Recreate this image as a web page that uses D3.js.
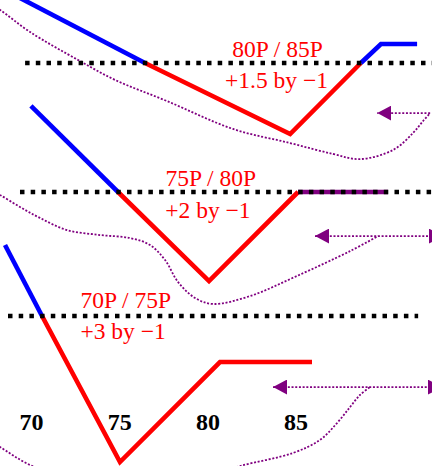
<!DOCTYPE html>
<html>
<head>
<meta charset="utf-8">
<script src="https://cdn.jsdelivr.net/npm/d3@7"></script>
<style>
  html, body { margin: 0; padding: 0; background: #fff; }
  svg { display: block; }
</style>
</head>
<body>
<div id="chart"></div>
<script>
// strike prices shown under the chart
const strikes = [70, 75, 80, 85];

// the three put spreads, top to bottom
const spreadNames = ["80P / 85P", "75P / 80P", "70P / 75P"];
const spreadRatios = ["+1.5 by \u22121", "+2 by \u22121", "+3 by \u22121"];

// payoff break points of each spread (underlying price, payoff)
const payoffPrices = [
  [68, 76.46, 84.69, 88.7, 89.84, 91.89],
  [69.99, 74.93, 80.09, 85.14, 90.24],
  [68.52, 70.62, 75.04, 80.71, 85.93]
];
const payoffValues = [
  [4.4, 0, -4.03, 0, 1.08, 1.08],
  [4.88, 0, -5.05, 0, 0],
  [4.03, 0, -8.28, -2.61, -2.61]
];

// dotted zero line of each panel, from / to price
const zeroFrom = [69.66, 69.37, 68.69];
const zeroTo = [94, 94, 91.95];

// dotted purple guide curves
const guidePrices = [
  [67.67, 68.24, 69.94, 72.77, 74.76, 77.71, 81.45, 84.69, 87.12, 88.65, 90.53, 91.66, 92.23, 92.63],
  [67.67, 68.24, 69.37, 70.50, 72.04, 73.91, 75.61, 76.75, 77.60, 78.33, 79.30, 80.32, 82.42, 85.08, 88.09, 89.68],
  [67.67, 68.24, 69.94, 72.77, 76.74, 80.15, 81.85, 84.85, 86.38, 87.35, 88.09, 88.65, 89.22]
];
const guideValues = [
  [3.35, 3.01, 1.76, 0.11, -0.96, -2.16, -3.74, -4.54, -5.16, -5.45, -4.93, -3.97, -3.29, -2.84],
  [0.11, -0.17, -0.85, -1.47, -2.16, -2.44, -2.61, -3.01, -3.86, -5.10, -6.01, -6.35, -5.90, -4.76, -3.35, -2.50],
  [-7.09, -7.43, -8.45, -9.42, -9.76, -9.08, -8.51, -7.77, -7.03, -6.07, -5.16, -4.48, -4.03]
];

// arrows: start price, end price, level, heads at both ends?
const arrowFrom = [92.63, 86.10, 83.72];
const arrowTo = [89.63, 93.36, 93.3];
const arrowValue = [-2.84, -2.50, -4.03];
const arrowBoth = [false, true, true];

// layout
const width = 432;
const height = 466;
const panelBase = [63, 192, 316];
const labelPrice = [81.41, 77.62, 72.80];
const ratioPrice = [81.0, 77.61, 72.80];
const nameLevel = [0.34, 0.34, 0.45];
const ratioLevel = [-1.42, -1.47, -1.30];
const tickBaseline = 430;

const blue = "#0000ff";
const red = "#ff0000";
const purple = "#800080";
const serif = "'Liberation Serif', 'Times New Roman', Times, serif";

const xScale = d3.scaleLinear()
  .domain([70, 85])
  .range([31.1, 295.6]);
const unit = (xScale(85) - xScale(70)) / 15;

const panelScale = i => d3.scaleLinear()
  .domain([0, 1])
  .range([panelBase[i], panelBase[i] - unit]);

const svg = d3.select("#chart")
  .append("svg")
  .attr("width", width)
  .attr("height", height);

svg.append("defs")
  .append("marker")
  .attr("id", "head")
  .attr("viewBox", "0 -7.5 14 15")
  .attr("refX", 14)
  .attr("refY", 0)
  .attr("markerWidth", 14)
  .attr("markerHeight", 15)
  .attr("markerUnits", "userSpaceOnUse")
  .attr("orient", "auto-start-reverse")
  .append("path")
  .attr("d", "M0,-7.5L14,0L0,7.5Z")
  .attr("fill", purple);

// group consecutive segments with the same sign so joins stay sharp
function runsBySign(points) {
  const runs = [];
  for (let i = 0; i < points.length - 1; i++) {
    const a = points[i], b = points[i + 1];
    const mid = (a[1] + b[1]) / 2;
    const sign = mid > 0 ? 1 : mid < 0 ? -1 : 0;
    const last = runs[runs.length - 1];
    if (last && last.sign === sign) last.points.push(b);
    else runs.push({ sign, points: [a, b] });
  }
  return runs;
}

const signColor = s => s > 0 ? blue : s < 0 ? red : purple;

spreadNames.forEach((name, i) => {
  const yScale = panelScale(i);
  const g = svg.append("g").attr("class", "panel");

  const line = d3.line()
    .x(d => xScale(d[0]))
    .y(d => yScale(d[1]));

  // guide curve
  const guide = guidePrices[i].map((p, j) => [p, guideValues[i][j]]);
  g.append("path")
    .attr("d", line.curve(d3.curveCatmullRom.alpha(0.5))(guide))
    .attr("fill", "none")
    .attr("stroke", purple)
    .attr("stroke-width", 1.8)
    .attr("stroke-dasharray", "2 1.7");
  line.curve(d3.curveLinear);

  // payoff
  const pts = payoffPrices[i].map((p, j) => [p, payoffValues[i][j]]);
  g.selectAll(".payoff")
    .data(runsBySign(pts))
    .join("path")
    .attr("class", "payoff")
    .attr("d", d => line(d.points))
    .attr("fill", "none")
    .attr("stroke", d => signColor(d.sign))
    .attr("stroke-width", 4.6)
    .attr("stroke-linejoin", "miter");

  // zero line
  g.append("line")
    .attr("x1", xScale(zeroFrom[i]))
    .attr("x2", xScale(zeroTo[i]))
    .attr("y1", yScale(0))
    .attr("y2", yScale(0))
    .attr("stroke", "#000")
    .attr("stroke-width", 4.5)
    .attr("stroke-dasharray", "4.5 6.2");

  // arrow
  const arrow = g.append("line")
    .attr("x1", xScale(arrowFrom[i]))
    .attr("x2", xScale(arrowTo[i]))
    .attr("y1", yScale(arrowValue[i]))
    .attr("y2", yScale(arrowValue[i]))
    .attr("stroke", purple)
    .attr("stroke-width", 1.8)
    .attr("stroke-dasharray", "2 1.7")
    .attr("marker-end", "url(#head)");
  if (arrowBoth[i]) arrow.attr("marker-start", "url(#head)");

  // labels
  g.append("text")
    .attr("x", xScale(labelPrice[i]))
    .attr("y", yScale(nameLevel[i]))
    .attr("fill", red)
    .attr("font-family", serif)
    .attr("font-size", 23.5)
    .text(name);

  g.append("text")
    .attr("x", xScale(ratioPrice[i]))
    .attr("y", yScale(ratioLevel[i]))
    .attr("fill", red)
    .attr("font-family", serif)
    .attr("font-size", 23.5)
    .text(spreadRatios[i]);
});

// strike labels
const axis = svg.append("g")
  .attr("transform", `translate(0,${tickBaseline})`)
  .call(d3.axisBottom(xScale).tickValues(strikes).tickSize(0).tickPadding(0));

axis.select(".domain").remove();
axis.selectAll("text")
  .attr("dy", null)
  .attr("y", 0)
  .attr("fill", "#000")
  .attr("font-family", serif)
  .attr("font-size", 24)
  .attr("font-weight", "bold");
</script>
</body>
</html>
